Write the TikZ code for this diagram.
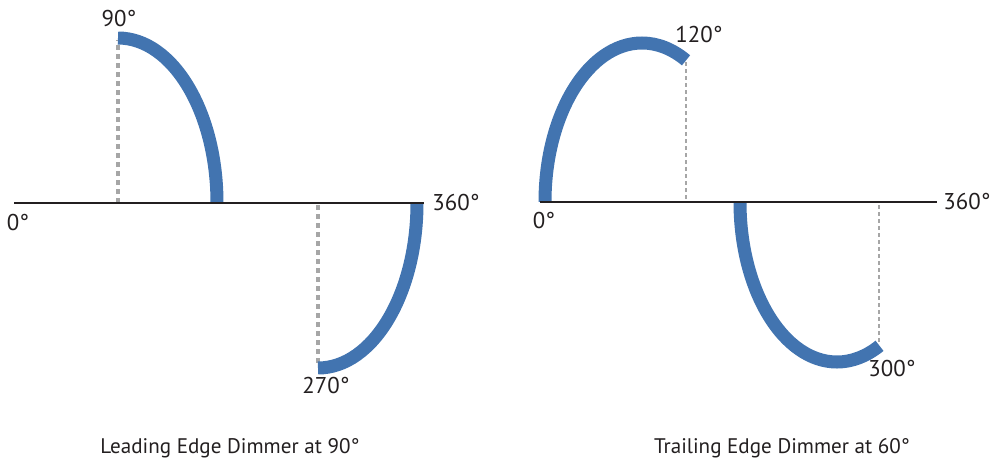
\documentclass[tikz,border=0pt]{standalone}
\usepackage{fontspec}
\setmainfont{PT Sans}
\definecolor{waveblue}{RGB}{66,116,176}
\definecolor{guidegray}{RGB}{166,166,166}
\definecolor{axisblack}{RGB}{35,31,32}

\begin{document}
\begin{tikzpicture}[
  x=0.2mm, y=0.2mm,
  wave/.style={line width=2.6mm, waveblue},
  axisline/.style={line width=0.4mm, axisblack},
  dotguide/.style={line width=0.8mm, guidegray, dash pattern=on 1mm off 0.8mm},
  dashguide/.style={line width=0.35mm, guidegray, dash pattern=on 0.8mm off 0.6mm},
  deg/.style={font=\fontsize{13}{15}\selectfont, anchor=base, inner sep=0pt, text=axisblack},
  caption/.style={font=\fontsize{12}{14}\selectfont, anchor=base, inner sep=0pt, text=axisblack}
]
  \useasboundingbox (0,0) rectangle (1003,462);

  % leading edge dimmer
  \coordinate (lstart) at (14,259);
  \coordinate (lend) at (424,259);
  \coordinate (lpeak) at (118,424);
  \coordinate (lpeakax) at (118,259);
  \coordinate (ltrough) at (318,94);
  \coordinate (ltroughax) at (318,257);
  \draw[dotguide] (lpeakax) -- ([yshift=-0.4mm]lpeak);
  \draw[dotguide] (ltroughax) -- ([yshift=0.4mm]ltrough);
  \draw[wave] (lpeak) arc[start angle=90, end angle=0, x radius=19.8mm, y radius=33mm];
  \draw[wave] (ltrough) arc[start angle=270, end angle=360, x radius=19.8mm, y radius=33mm];
  \draw[axisline] (lstart) -- (lend);

  % trailing edge dimmer
  \coordinate (tstart) at (540,260);
  \coordinate (tend) at (937,260);
  \coordinate (tzero) at (545,260);
  \coordinate (tmid) at (740,260);
  \coordinate (tcut) at (686,400);
  \coordinate (tcutax) at (686,263);
  \coordinate (toff) at (879,118);
  \coordinate (toffax) at (879,257);
  \draw[dashguide] (tcutax) -- (tcut);
  \draw[dashguide] (toffax) -- (toff);
  \draw[wave] (tzero) arc[start angle=180, end angle=63, x radius=19.4mm, y radius=31.8mm];
  \draw[wave] (tmid) arc[start angle=180, end angle=296, x radius=19.4mm, y radius=32mm];
  \draw[axisline] (tstart) -- (tend);

  % angle labels
  \node[deg] (l90) at (119,436) {90°};
  \node[deg] (l0) at (18,232) {0°};
  \node[deg] (l360) at (456,252) {360°};
  \node[deg] (l270) at (326,69) {270°};
  \node[deg] (t120) at (699,419) {120°};
  \node[deg] (t0) at (544,234) {0°};
  \node[deg] (t360) at (967,253) {360°};
  \node[deg] (t300) at (892,86) {300°};

  % captions
  \node[caption] (lcap) at (230,9) {Leading Edge Dimmer at 90°};
  \node[caption] (tcap) at (782,9) {Trailing Edge Dimmer at 60°};
\end{tikzpicture}
\end{document}
